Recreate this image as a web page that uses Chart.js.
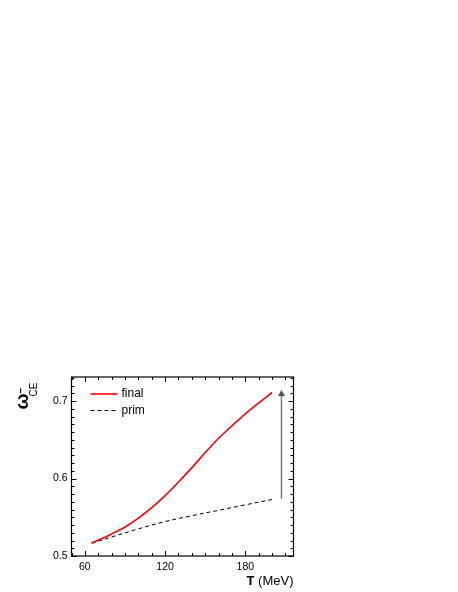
<!DOCTYPE html>
<html>
<head>
<meta charset="utf-8">
<script src="https://cdn.jsdelivr.net/npm/chart.js@4.4.1/dist/chart.umd.min.js"></script>
<style>
html,body{margin:0;padding:0;background:#fff;}
#wrap{position:absolute;left:0;top:0;width:458px;height:592px;}
</style>
</head>
<body>
<div id="wrap"><canvas id="c" width="458" height="592"></canvas></div>
<script>
// ---- data ----
const finalT = [65, 80, 90, 100, 110, 120, 130, 140, 150, 160, 170, 180, 190, 200];
const finalW = [0.5165, 0.5285, 0.5375, 0.549, 0.5625, 0.578, 0.5955, 0.614, 0.6335, 0.652, 0.668, 0.6835, 0.6975, 0.711];
const primT = [65, 80, 100, 120, 140, 160, 180, 200];
const primW = [0.5165, 0.5245, 0.535, 0.5445, 0.552, 0.559, 0.566, 0.573];
const arrowT = [207, 207];
const arrowW = [0.574, 0.709];
const xTickLabels = [60, 120, 180];
const yTickLabels = [0.5, 0.6, 0.7];
const seriesNames = ['final', 'prim'];
const xTitleBold = 'T';
const xTitleRest = ' (MeV)';

const FONT = '"Liberation Sans", Arial, sans-serif';

const toPts = (xs, ys) => xs.map((x, i) => ({x: x, y: ys[i]}));

const decor = {
  id: 'decor',
  afterDraw(chart) {
    const ctx = chart.ctx;
    const a = chart.chartArea;
    const xs = chart.scales.x, ys = chart.scales.y;
    ctx.save();
    // frame
    ctx.strokeStyle = '#000';
    ctx.lineWidth = 1.2;
    ctx.strokeRect(a.left, a.top, a.right - a.left, a.bottom - a.top);
    // x ticks (inward, both sides)
    ctx.lineWidth = 1;
    for (let v = 50; v <= 216; v += 10) {
      const px = Math.round(xs.getPixelForValue(v)) + 0.5;
      const len = (v % 60 === 0) ? 5 : 3;
      ctx.beginPath();
      ctx.moveTo(px, a.bottom); ctx.lineTo(px, a.bottom - len);
      ctx.moveTo(px, a.top); ctx.lineTo(px, a.top + len);
      ctx.stroke();
    }
    for (let k = 50; k <= 73; k++) {
      const v = k / 100;
      const py = Math.round(ys.getPixelForValue(v)) + 0.5;
      const len = (k % 10 === 0) ? 5 : 3;
      ctx.beginPath();
      ctx.moveTo(a.left, py); ctx.lineTo(a.left + len, py);
      ctx.moveTo(a.right, py); ctx.lineTo(a.right - len, py);
      ctx.stroke();
    }
    // legend
    const lx0 = a.left + 19, lx1 = a.left + 46, tx = a.left + 50;
    const ly1 = a.top + 17, ly2 = a.top + 33.5;
    ctx.lineWidth = 1.6;
    ctx.strokeStyle = '#ff0000';
    ctx.beginPath(); ctx.moveTo(lx0, ly1); ctx.lineTo(lx1, ly1); ctx.stroke();
    ctx.lineWidth = 1;
    ctx.strokeStyle = '#000';
    ctx.setLineDash([4, 3]);
    ctx.beginPath(); ctx.moveTo(lx0, ly2); ctx.lineTo(lx1, ly2); ctx.stroke();
    ctx.setLineDash([]);
    ctx.fillStyle = '#000';
    ctx.font = '12px ' + FONT;
    ctx.textAlign = 'left';
    ctx.textBaseline = 'middle';
    ctx.fillText(seriesNames[0], tx, ly1);
    ctx.fillText(seriesNames[1], tx, ly2);
    // x title
    ctx.textBaseline = 'middle';
    ctx.font = 'bold 13px ' + FONT;
    const bw = ctx.measureText(xTitleBold).width;
    ctx.font = '13px ' + FONT;
    const rw = ctx.measureText(xTitleRest).width;
    const xr = a.right;
    ctx.font = 'bold 13px ' + FONT;
    ctx.fillText(xTitleBold, xr - rw - bw, 581);
    ctx.font = '13px ' + FONT;
    ctx.fillText(xTitleRest, xr - rw, 581);
    // y title (rotated)
    ctx.save();
    ctx.translate(28, 409.5);
    ctx.rotate(-Math.PI / 2);
    ctx.textAlign = 'left';
    ctx.textBaseline = 'alphabetic';
    ctx.font = 'bold 19px ' + FONT;
    ctx.fillText('\u03C9', 0, 0);
    ctx.font = 'bold 10px ' + FONT;
    ctx.textBaseline = 'middle';
    ctx.fillText('\u2212', 16, -6.5);
    ctx.font = '10px ' + FONT;
    ctx.textBaseline = 'alphabetic';
    ctx.fillText('CE', 13, 9);
    ctx.restore();
    ctx.restore();
  }
};

new Chart(document.getElementById('c'), {
  type: 'line',
  data: {
    datasets: [
      {
        label: seriesNames[0],
        data: toPts(finalT, finalW),
        borderColor: '#ff0000',
        borderWidth: 1.6,
        pointRadius: 0,
        fill: false,
        tension: 0.35
      },
      {
        label: seriesNames[1],
        data: toPts(primT, primW),
        borderColor: '#000000',
        borderWidth: 1,
        borderDash: [4, 3],
        pointRadius: 0,
        fill: false,
        tension: 0.35
      },
      {
        label: 'arrow',
        data: toPts(arrowT, arrowW),
        borderColor: '#707070',
        backgroundColor: '#505050',
        borderWidth: 1.4,
        pointStyle: 'triangle',
        pointRadius: [0, 4],
        pointBorderWidth: 0,
        pointBackgroundColor: '#505050',
        fill: false
      }
    ]
  },
  options: {
    responsive: false,
    animation: false,
    devicePixelRatio: 1,
    layout: { padding: { left: 0, right: 164.5, top: 377, bottom: 0 } },
    plugins: { legend: { display: false }, tooltip: { enabled: false } },
    scales: {
      x: {
        type: 'linear',
        min: 50, max: 216,
        grid: { display: false, drawTicks: false },
        border: { display: false },
        afterBuildTicks: s => { s.ticks = xTickLabels.map(v => ({value: v})); },
        afterFit: s => { s.height = 36; },
        ticks: {
          padding: 5,
          color: '#000',
          font: { family: FONT, size: 10.5 },
          maxRotation: 0,
          callback: v => String(v)
        }
      },
      y: {
        type: 'linear',
        min: 0.5, max: 0.731,
        grid: { display: false, drawTicks: false },
        border: { display: false },
        afterBuildTicks: s => { s.ticks = yTickLabels.map(v => ({value: v})); },
        afterFit: s => { s.width = 71.5; },
        ticks: {
          padding: 4,
          color: '#000',
          font: { family: FONT, size: 10.5 },
          callback: v => String(v)
        }
      }
    }
  },
  plugins: [decor]
});
</script>
</body>
</html>
